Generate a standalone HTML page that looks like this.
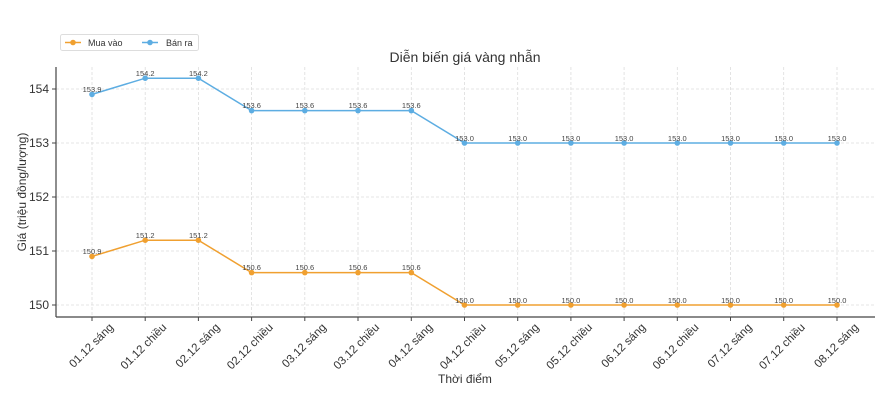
<!DOCTYPE html>
<html><head><meta charset="utf-8"><style>body{margin:0;background:#fff}svg{display:block;font-family:"Liberation Sans","DejaVu Sans",sans-serif}</style></head>
<body>
<svg width="882" height="402" viewBox="0 0 882 402">
<g stroke="#ddd" stroke-dasharray="3,2" stroke-width="0.8">
<line x1="56" x2="875" y1="89" y2="89"/><line x1="56" x2="875" y1="143" y2="143"/><line x1="56" x2="875" y1="197" y2="197"/><line x1="56" x2="875" y1="251" y2="251"/><line x1="56" x2="875" y1="305" y2="305"/>
<line x1="92" x2="92" y1="67" y2="317"/><line x1="145.2" x2="145.2" y1="67" y2="317"/><line x1="198.4" x2="198.4" y1="67" y2="317"/><line x1="251.6" x2="251.6" y1="67" y2="317"/><line x1="304.8" x2="304.8" y1="67" y2="317"/><line x1="358" x2="358" y1="67" y2="317"/><line x1="411.3" x2="411.3" y1="67" y2="317"/><line x1="464.5" x2="464.5" y1="67" y2="317"/><line x1="517.7" x2="517.7" y1="67" y2="317"/><line x1="570.9" x2="570.9" y1="67" y2="317"/><line x1="624.1" x2="624.1" y1="67" y2="317"/><line x1="677.3" x2="677.3" y1="67" y2="317"/><line x1="730.5" x2="730.5" y1="67" y2="317"/><line x1="783.7" x2="783.7" y1="67" y2="317"/><line x1="837" x2="837" y1="67" y2="317"/>
</g>
<g stroke="#444" stroke-width="1.2"><line x1="56" x2="56" y1="67" y2="317"/><line x1="56" x2="875" y1="317" y2="317"/></g>
<g stroke="#444"><line x1="52" x2="56" y1="89" y2="89"/><line x1="52" x2="56" y1="143" y2="143"/><line x1="52" x2="56" y1="197" y2="197"/><line x1="52" x2="56" y1="251" y2="251"/><line x1="52" x2="56" y1="305" y2="305"/>
<line x1="92" x2="92" y1="317" y2="321"/><line x1="145.2" x2="145.2" y1="317" y2="321"/><line x1="198.4" x2="198.4" y1="317" y2="321"/><line x1="251.6" x2="251.6" y1="317" y2="321"/><line x1="304.8" x2="304.8" y1="317" y2="321"/><line x1="358" x2="358" y1="317" y2="321"/><line x1="411.3" x2="411.3" y1="317" y2="321"/><line x1="464.5" x2="464.5" y1="317" y2="321"/><line x1="517.7" x2="517.7" y1="317" y2="321"/><line x1="570.9" x2="570.9" y1="317" y2="321"/><line x1="624.1" x2="624.1" y1="317" y2="321"/><line x1="677.3" x2="677.3" y1="317" y2="321"/><line x1="730.5" x2="730.5" y1="317" y2="321"/><line x1="783.7" x2="783.7" y1="317" y2="321"/><line x1="837" x2="837" y1="317" y2="321"/></g>
<g font-size="12" fill="#333" text-anchor="end"><text x="49" y="93">154</text><text x="49" y="147">153</text><text x="49" y="201">152</text><text x="49" y="255">151</text><text x="49" y="309">150</text></g>
<g font-size="11.5" fill="#333" text-anchor="end">
<text transform="translate(114,328) rotate(-45)">01.12 sáng</text>
<text transform="translate(167.2,328) rotate(-45)">01.12 chiều</text>
<text transform="translate(220.4,328) rotate(-45)">02.12 sáng</text>
<text transform="translate(273.6,328) rotate(-45)">02.12 chiều</text>
<text transform="translate(326.8,328) rotate(-45)">03.12 sáng</text>
<text transform="translate(380,328) rotate(-45)">03.12 chiều</text>
<text transform="translate(433.3,328) rotate(-45)">04.12 sáng</text>
<text transform="translate(486.5,328) rotate(-45)">04.12 chiều</text>
<text transform="translate(539.7,328) rotate(-45)">05.12 sáng</text>
<text transform="translate(592.9,328) rotate(-45)">05.12 chiều</text>
<text transform="translate(646.1,328) rotate(-45)">06.12 sáng</text>
<text transform="translate(699.3,328) rotate(-45)">06.12 chiều</text>
<text transform="translate(752.5,328) rotate(-45)">07.12 sáng</text>
<text transform="translate(805.7,328) rotate(-45)">07.12 chiều</text>
<text transform="translate(859,328) rotate(-45)">08.12 sáng</text>
</g>
<text x="465" y="62" font-size="14" fill="#333" text-anchor="middle">Diễn biến giá vàng nhẫn</text>
<text x="465" y="383" font-size="12" fill="#333" text-anchor="middle">Thời điểm</text>
<text transform="translate(26,192) rotate(-90)" font-size="12" fill="#333" text-anchor="middle">Giá (triệu đồng/lượng)</text>
<polyline fill="none" stroke="#5dade2" stroke-width="1.5" points="92,94.4 145.2,78.2 198.4,78.2 251.6,110.6 304.8,110.6 358,110.6 411.3,110.6 464.5,143 517.7,143 570.9,143 624.1,143 677.3,143 730.5,143 783.7,143 837,143"/>
<polyline fill="none" stroke="#f0a030" stroke-width="1.5" points="92,256.4 145.2,240.2 198.4,240.2 251.6,272.6 304.8,272.6 358,272.6 411.3,272.6 464.5,305 517.7,305 570.9,305 624.1,305 677.3,305 730.5,305 783.7,305 837,305"/>
<g fill="#5dade2"><circle cx="92" cy="94.4" r="2.8"/><circle cx="145.2" cy="78.2" r="2.8"/><circle cx="198.4" cy="78.2" r="2.8"/><circle cx="251.6" cy="110.6" r="2.8"/><circle cx="304.8" cy="110.6" r="2.8"/><circle cx="358" cy="110.6" r="2.8"/><circle cx="411.3" cy="110.6" r="2.8"/><circle cx="464.5" cy="143" r="2.8"/><circle cx="517.7" cy="143" r="2.8"/><circle cx="570.9" cy="143" r="2.8"/><circle cx="624.1" cy="143" r="2.8"/><circle cx="677.3" cy="143" r="2.8"/><circle cx="730.5" cy="143" r="2.8"/><circle cx="783.7" cy="143" r="2.8"/><circle cx="837" cy="143" r="2.8"/></g>
<g fill="#f0a030"><circle cx="92" cy="256.4" r="2.8"/><circle cx="145.2" cy="240.2" r="2.8"/><circle cx="198.4" cy="240.2" r="2.8"/><circle cx="251.6" cy="272.6" r="2.8"/><circle cx="304.8" cy="272.6" r="2.8"/><circle cx="358" cy="272.6" r="2.8"/><circle cx="411.3" cy="272.6" r="2.8"/><circle cx="464.5" cy="305" r="2.8"/><circle cx="517.7" cy="305" r="2.8"/><circle cx="570.9" cy="305" r="2.8"/><circle cx="624.1" cy="305" r="2.8"/><circle cx="677.3" cy="305" r="2.8"/><circle cx="730.5" cy="305" r="2.8"/><circle cx="783.7" cy="305" r="2.8"/><circle cx="837" cy="305" r="2.8"/></g>
<g font-size="7.5" fill="#444" text-anchor="middle">
<text x="92" y="92">153.9</text><text x="145.2" y="76">154.2</text><text x="198.4" y="76">154.2</text><text x="251.6" y="108">153.6</text><text x="304.8" y="108">153.6</text><text x="358" y="108">153.6</text><text x="411.3" y="108">153.6</text><text x="464.5" y="141">153.0</text><text x="517.7" y="141">153.0</text><text x="570.9" y="141">153.0</text><text x="624.1" y="141">153.0</text><text x="677.3" y="141">153.0</text><text x="730.5" y="141">153.0</text><text x="783.7" y="141">153.0</text><text x="837" y="141">153.0</text>
<text x="92" y="254">150.9</text><text x="145.2" y="238">151.2</text><text x="198.4" y="238">151.2</text><text x="251.6" y="270">150.6</text><text x="304.8" y="270">150.6</text><text x="358" y="270">150.6</text><text x="411.3" y="270">150.6</text><text x="464.5" y="303">150.0</text><text x="517.7" y="303">150.0</text><text x="570.9" y="303">150.0</text><text x="624.1" y="303">150.0</text><text x="677.3" y="303">150.0</text><text x="730.5" y="303">150.0</text><text x="783.7" y="303">150.0</text><text x="837" y="303">150.0</text>
</g>
<rect x="60.5" y="34.5" width="138" height="16" rx="2" fill="#fff" stroke="#ddd"/>
<line x1="65" x2="81" y1="42.5" y2="42.5" stroke="#f0a030" stroke-width="1.5"/><circle cx="73" cy="42.5" r="2.8" fill="#f0a030"/>
<text x="88" y="46" font-size="9" fill="#333">Mua vào</text>
<line x1="142" x2="158" y1="42.5" y2="42.5" stroke="#5dade2" stroke-width="1.5"/><circle cx="150" cy="42.5" r="2.8" fill="#5dade2"/>
<text x="166" y="46" font-size="9" fill="#333">Bán ra</text>
</svg>
</body></html>
